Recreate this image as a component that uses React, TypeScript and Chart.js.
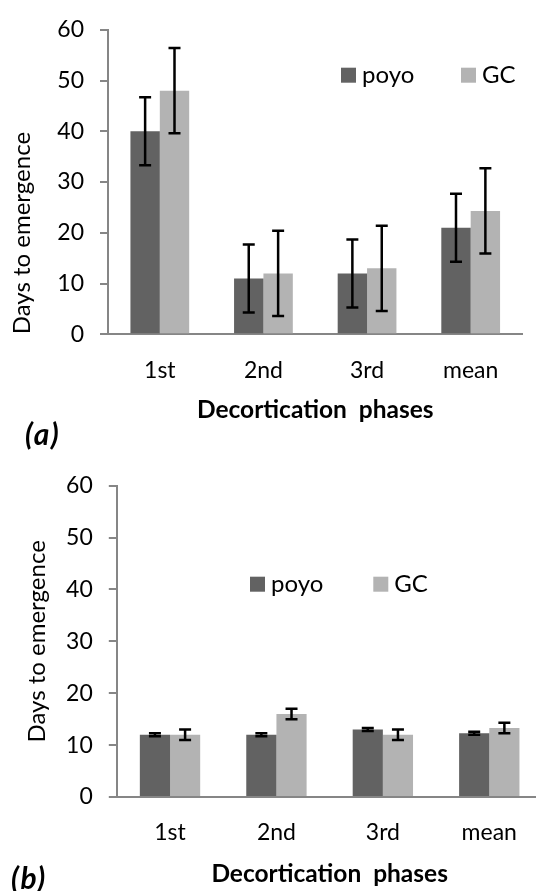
import React, { useEffect, useRef } from 'react';
import { Chart, registerables } from 'chart.js';

Chart.register(...registerables);

// ---- data ----
const categories = ['1st', '2nd', '3rd', 'mean'];
const seriesNames = ['poyo', 'GC'];

const poyoA = [40, 11, 12, 21];
const poyoAErr = [6.7, 6.7, 6.7, 6.7];
const gcA = [48, 12, 13, 24.3];
const gcAErr = [8.4, 8.4, 8.4, 8.4];

const poyoB = [12, 12, 13, 12.3];
const poyoBErr = [0.3, 0.3, 0.3, 0.3];
const gcB = [12, 16, 12, 13.3];
const gcBErr = [1, 1, 1, 1];

const yMin = 0;
const yMax = 60;
const yStep = 10;
const xTitle = 'Decortication  phases';
const yTitle = 'Days to emergence';
const panelLabels = ['(a)', '(b)'];

// ---- styles ----
const DARK = '#626262';
const LIGHT = '#b3b3b3';
const AXIS = '#868686';
const TEXT = '#000000';
const FONT = 'Lato';
const TICK_FS = 23;
const LEGEND_FS = 24;
const YTITLE_FS = 24;
const XTITLE_FS = 24.5;

const errorBarPlugin = {
  id: 'errorBars',
  afterDatasetsDraw(chart: any) {
    const ctx = chart.ctx;
    const y = chart.scales.y;
    chart.data.datasets.forEach((ds: any, i: number) => {
      const meta = chart.getDatasetMeta(i);
      const errs = ds.errors || [];
      meta.data.forEach((bar: any, j: number) => {
        const v = ds.data[j];
        const e = errs[j];
        if (e == null) return;
        const top = y.getPixelForValue(v + e);
        const bot = y.getPixelForValue(v - e);
        const x = bar.x;
        const half = 6;
        ctx.save();
        ctx.strokeStyle = '#000';
        ctx.lineWidth = 2.5;
        ctx.beginPath();
        ctx.moveTo(x, top);
        ctx.lineTo(x, bot);
        ctx.moveTo(x - half, top);
        ctx.lineTo(x + half, top);
        ctx.moveTo(x - half, bot);
        ctx.lineTo(x + half, bot);
        ctx.stroke();
        ctx.restore();
      });
    });
  },
};

const boxLegendPlugin = {
  id: 'boxLegend',
  afterDraw(chart: any, _args: any, opts: any) {
    const ctx = chart.ctx;
    const pos = opts.positions || [];
    chart.data.datasets.forEach((ds: any, i: number) => {
      const p = pos[i];
      if (!p) return;
      ctx.save();
      ctx.fillStyle = ds.backgroundColor;
      ctx.fillRect(p.x, p.y, opts.box, opts.box);
      ctx.fillStyle = TEXT;
      ctx.font = `${LEGEND_FS}px ${FONT}`;
      ctx.textAlign = 'left';
      ctx.textBaseline = 'alphabetic';
      ctx.fillText(ds.label, p.x + opts.box + opts.gap, p.y + opts.box);
      ctx.restore();
    });
  },
};

type PanelProps = {
  top: number;
  width: number;
  height: number;
  poyo: number[];
  poyoErr: number[];
  gc: number[];
  gcErr: number[];
  padTop: number;
  padRight: number;
  yW: number;
  xH: number;
  yTitlePad: number;
  yTitleAlign: 'start' | 'center' | 'end';
  xTitlePad: number;
  legend: { x: number; y: number }[];
};

function BarPanel(p: PanelProps) {
  const ref = useRef<HTMLCanvasElement>(null);
  useEffect(() => {
    if (!ref.current) return;
    const chart = new Chart(ref.current, {
      type: 'bar',
      data: {
        labels: categories,
        datasets: [
          {
            label: seriesNames[0],
            data: p.poyo,
            errors: p.poyoErr,
            backgroundColor: DARK,
            borderWidth: 0,
            categoryPercentage: 0.567,
            barPercentage: 1.0,
          } as any,
          {
            label: seriesNames[1],
            data: p.gc,
            errors: p.gcErr,
            backgroundColor: LIGHT,
            borderWidth: 0,
            categoryPercentage: 0.567,
            barPercentage: 1.0,
          } as any,
        ],
      },
      options: {
        responsive: false,
        animation: false,
        layout: { padding: { top: p.padTop, right: p.padRight, left: 0, bottom: 0 } },
        plugins: {
          legend: { display: false },
          tooltip: { enabled: false },
          boxLegend: { positions: p.legend, box: 15, gap: 6 },
        } as any,
        scales: {
          x: {
            type: 'category',
            offset: true,
            grid: { display: false, drawTicks: false, tickLength: 0 },
            border: { display: true, color: AXIS, width: 2 },
            ticks: { color: TEXT, font: { family: FONT, size: TICK_FS }, padding: 22, maxRotation: 0 },
            title: {
              display: true,
              text: xTitle,
              color: TEXT,
              font: { family: FONT, size: XTITLE_FS, weight: 'bold' },
              padding: { top: 0, bottom: p.xTitlePad },
            },
            afterFit: (s: any) => {
              s.height = p.xH;
            },
          },
          y: {
            min: yMin,
            max: yMax,
            ticks: { stepSize: yStep, color: TEXT, font: { family: FONT, size: TICK_FS }, padding: 16 },
            grid: { drawOnChartArea: false, drawTicks: true, tickLength: 8, color: AXIS, lineWidth: 2 },
            border: { display: true, color: AXIS, width: 2 },
            title: {
              display: true,
              text: yTitle,
              align: p.yTitleAlign,
              color: TEXT,
              font: { family: FONT, size: YTITLE_FS },
              padding: { top: p.yTitlePad, bottom: 0 },
            },
            afterFit: (s: any) => {
              s.width = p.yW;
            },
          },
        },
      },
      plugins: [errorBarPlugin, boxLegendPlugin],
    });
    return () => chart.destroy();
  }, []);
  return (
    <canvas
      ref={ref}
      width={p.width}
      height={p.height}
      style={{ position: 'absolute', left: 0, top: p.top, width: p.width, height: p.height, display: 'block' }}
    />
  );
}

const labelStyle = (left: number, centerY: number): React.CSSProperties => ({
  position: 'absolute',
  left,
  top: centerY - 15,
  fontFamily: FONT,
  fontSize: 30,
  lineHeight: '30px',
  fontWeight: 'bold',
  fontStyle: 'italic',
  color: TEXT,
  letterSpacing: 1.5,
});

export default function App() {
  return (
    <div
      style={{
        position: 'absolute',
        left: 0,
        top: 0,
        width: 536,
        height: 891,
        overflow: 'hidden',
        background: '#ffffff',
      }}
    >
      <BarPanel
        top={0}
        width={536}
        height={445}
        poyo={poyoA}
        poyoErr={poyoAErr}
        gc={gcA}
        gcErr={gcAErr}
        padTop={24.3}
        padRight={13.5}
        yW={108}
        xH={110.7}
        yTitlePad={8}
        yTitleAlign="start"
        xTitlePad={20.3}
        legend={[
          { x: 341, y: 67.7 },
          { x: 461, y: 67.7 },
        ]}
      />
      <BarPanel
        top={445}
        width={560}
        height={446}
        poyo={poyoB}
        poyoErr={poyoBErr}
        gc={gcB}
        gcErr={gcBErr}
        padTop={40.7}
        padRight={17.5}
        yW={116.8}
        xH={94}
        yTitlePad={23}
        yTitleAlign="center"
        xTitlePad={2.3}
        legend={[
          { x: 250, y: 131.7 },
          { x: 373.3, y: 131.7 },
        ]}
      />
      <div style={labelStyle(25, 433)}>{panelLabels[0]}</div>
      <div style={labelStyle(11, 877)}>{panelLabels[1]}</div>
    </div>
  );
}
